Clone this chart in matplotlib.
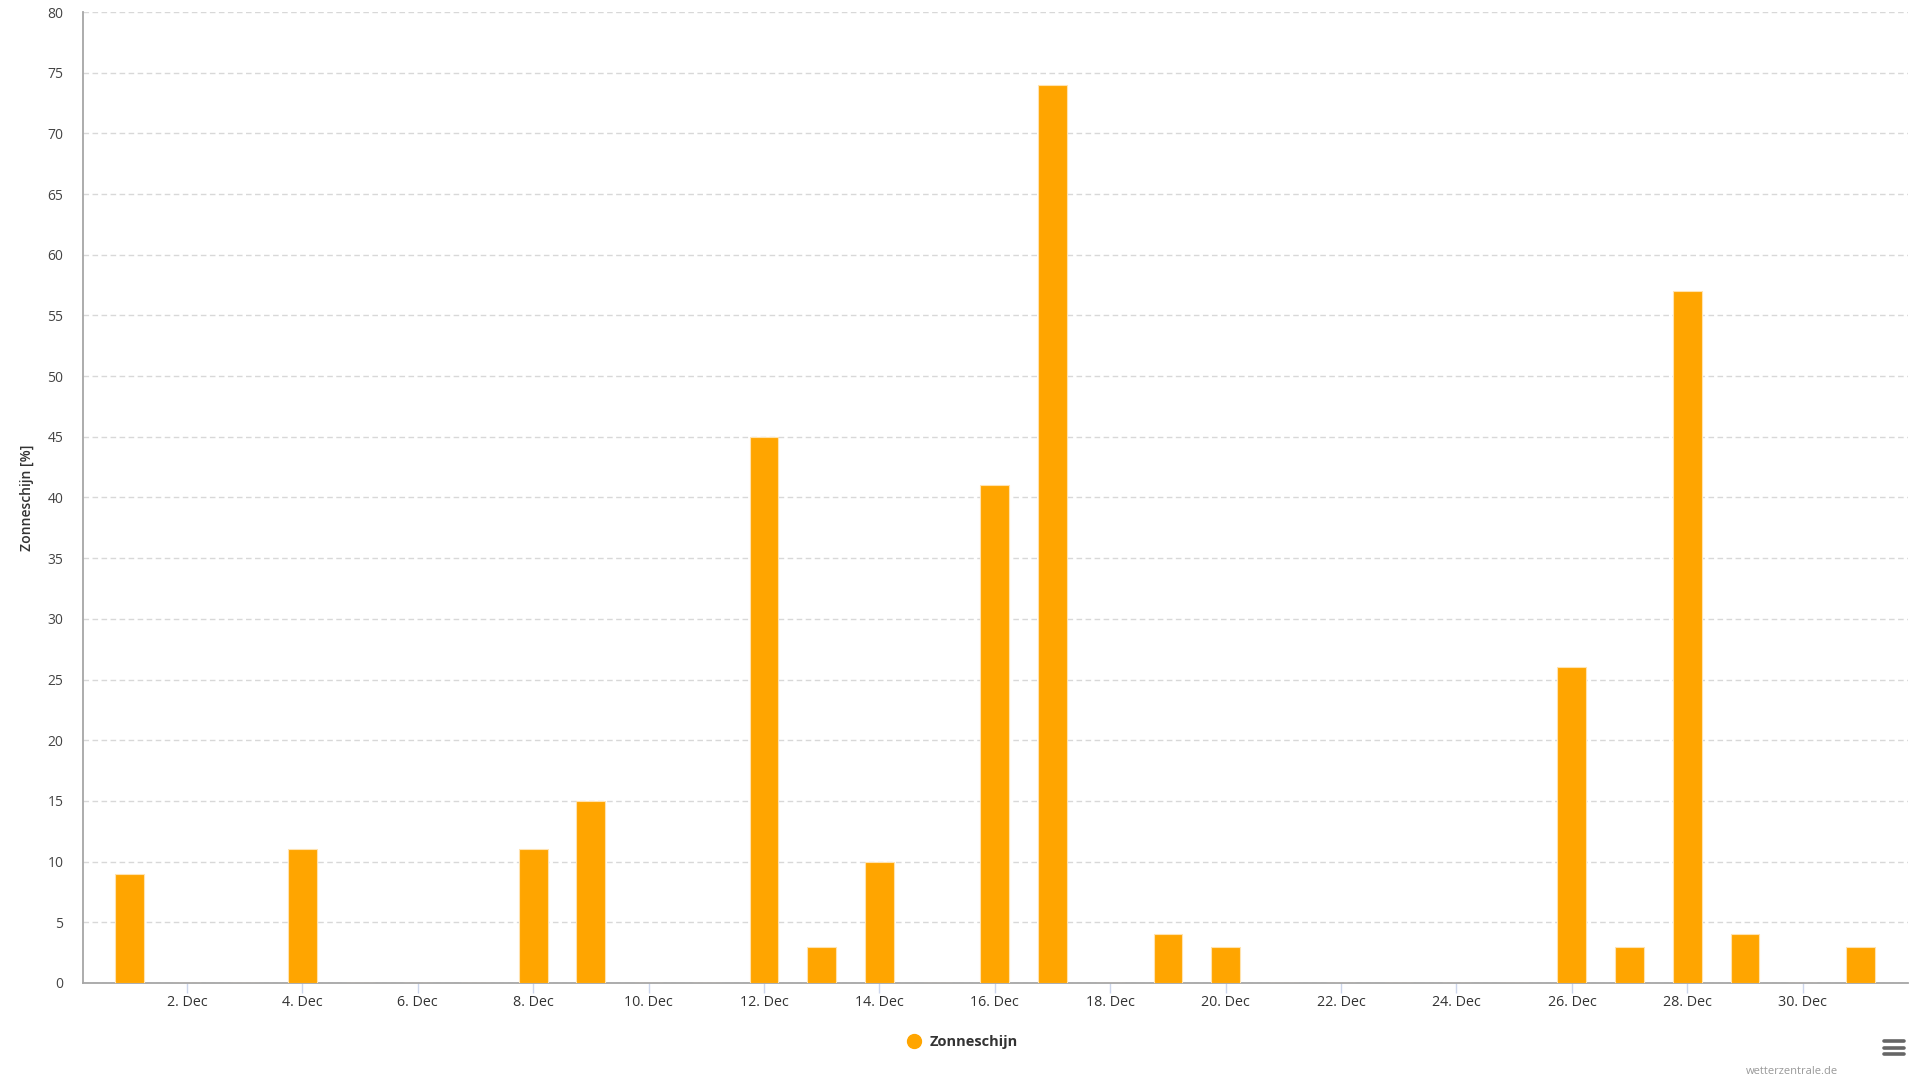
import matplotlib.pyplot as plt
from matplotlib.lines import Line2D

plt.rcParams['font.family'] = ['Open Sans', 'DejaVu Sans']

# zonneschijn per dag in december (%)
dagen = list(range(1, 32))
zonneschijn = [9, 0, 0, 11, 0, 0, 0, 11, 15, 0, 0, 45, 3, 10, 0, 41, 74, 0, 4, 3,
               0, 0, 0, 0, 0, 26, 3, 57, 4, 0, 3]
tick_dagen = list(range(2, 31, 2))
tick_labels = [f"{d}. Dec" for d in tick_dagen]
y_ticks = list(range(0, 81, 5))

kleur = '#ffa500'

fig = plt.figure(figsize=(19.2, 10.8), dpi=100)
ax = fig.add_axes([83 / 1920, 1 - 983 / 1080, (1908 - 83) / 1920, (983 - 12) / 1080])

ax.bar(dagen, zonneschijn, width=0.5, color=kleur, edgecolor='#ffe3b0', linewidth=0.8, zorder=3)

ax.set_xlim(0.198, 31.825)
ax.set_ylim(0, 80)
ax.set_yticks(y_ticks)
ax.set_xticks(tick_dagen)
ax.set_xticklabels(tick_labels)

ax.grid(axis='y', color='#d8d8d8', linestyle=(0, (4, 2.5)), linewidth=1.0, zorder=0)
ax.grid(axis='x', visible=False)

for s in ['top', 'right']:
    ax.spines[s].set_visible(False)
ax.spines['left'].set_color('#a6a6a6')
ax.spines['bottom'].set_color('#a6a6a6')
ax.spines['left'].set_linewidth(1.3)
ax.spines['bottom'].set_linewidth(1.3)

ax.tick_params(axis='y', length=0, pad=14, labelsize=10, labelcolor='#444444')
ax.tick_params(axis='x', length=7, width=1, color='#ccd6eb', pad=2, labelsize=10.3, labelcolor='#333333')

ax.set_ylabel('Zonneschijn [%]', fontsize=10, color='#333333', fontweight='semibold')
ax.yaxis.set_label_coords(-49 / 1825, 0.5)

# legenda
leg_item = Line2D([], [], marker='o', linestyle='none', markersize=10,
                  markerfacecolor=kleur, markeredgecolor=kleur, label='Zonneschijn')
leg = fig.legend(handles=[leg_item], loc='center', bbox_to_anchor=(962 / 1920, 1 - 1042 / 1080),
                 frameon=False, prop={'size': 10.5, 'weight': 'bold'}, handletextpad=0.6,
                 handlelength=1.0)
for t in leg.get_texts():
    t.set_color('#333333')

fig.text(1838 / 1920, 1 - 1071 / 1080, 'wetterzentrale.de', ha='right', va='center',
         fontsize=8, color='#999999')

# menu-icoon
for y in [1041, 1047.5, 1054]:
    fig.add_artist(Line2D([1884 / 1920, 1904 / 1920], [1 - y / 1080, 1 - y / 1080],
                          color='#666666', linewidth=2.6, solid_capstyle='round'))

fig.savefig('out.png', dpi=100)
